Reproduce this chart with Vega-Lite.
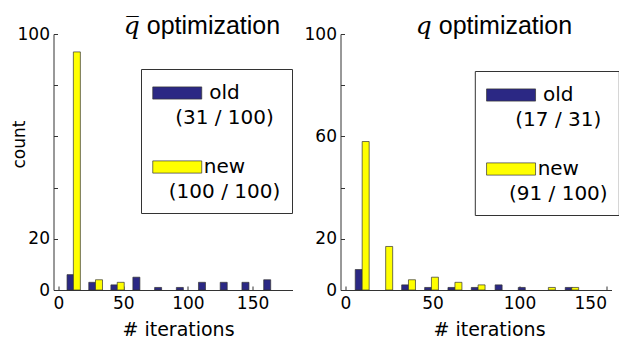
{
  "$schema": "https://vega.github.io/schema/vega-lite/v6.json",
  "background": "white",
  "padding": {"left": 9.5, "top": 14, "right": 2, "bottom": 5},
  "config": {
    "font": "DejaVu Sans",
    "view": {"stroke": null},
    "axis": {
      "domainColor": "#333", "tickColor": "#333", "labelColor": "#000", "titleColor": "#000",
      "labelFont": "DejaVu Sans", "titleFont": "DejaVu Sans",
      "labelFontSize": 17, "titleFontSize": 19, "titleFontWeight": "normal",
      "grid": false, "tickSize": -4, "domainWidth": 1, "tickWidth": 1
    },
    "axisX": {"labelPadding": 9, "labelFlush": false, "titlePadding": 9},
    "axisY": {"labelPadding": 8},
    "title": {"fontSize": 25, "fontWeight": "normal", "font": "Liberation Sans, DejaVu Serif", "color": "#000", "frame": "group", "offset": -14},
    "concat": {"spacing": 11},
    "legend": {
      "orient": "none", "title": null,
      "strokeColor": "#333", "fillColor": "white", "padding": 11,
      "symbolType": "M-1,-0.5H3V0.5H-1Z", "symbolSize": 600,
      "symbolStrokeColor": "#333", "symbolStrokeWidth": 0.7, "symbolOpacity": 1,
      "labelFontSize": 20, "labelFont": "DejaVu Sans", "labelColor": "#000",
      "labelAlign": "center", "labelBaseline": "middle", "labelOffset": 46.5, "rowPadding": 26, "labelLimit": 300
    }
  },
  "datasets": {
    "left": [
      {"iterations": 9.3, "series": "old", "count": 6},
      {"iterations": 26.1, "series": "old", "count": 3},
      {"iterations": 43.2, "series": "old", "count": 2},
      {"iterations": 60.2, "series": "old", "count": 5},
      {"iterations": 77.0, "series": "old", "count": 1},
      {"iterations": 93.8, "series": "old", "count": 1},
      {"iterations": 110.9, "series": "old", "count": 3},
      {"iterations": 127.7, "series": "old", "count": 3},
      {"iterations": 144.5, "series": "old", "count": 3},
      {"iterations": 161.3, "series": "old", "count": 4},
      {"iterations": 14.2, "series": "new", "count": 93},
      {"iterations": 31.3, "series": "new", "count": 4},
      {"iterations": 48.1, "series": "new", "count": 3}
    ],
    "right": [
      {"iterations": 7.6, "series": "old", "count": 8},
      {"iterations": 34.3, "series": "old", "count": 2},
      {"iterations": 47.5, "series": "old", "count": 1},
      {"iterations": 60.9, "series": "old", "count": 1},
      {"iterations": 74.3, "series": "old", "count": 1},
      {"iterations": 88.0, "series": "old", "count": 2},
      {"iterations": 101.3, "series": "old", "count": 1},
      {"iterations": 128.3, "series": "old", "count": 1},
      {"iterations": 11.6, "series": "new", "count": 58},
      {"iterations": 25.1, "series": "new", "count": 17},
      {"iterations": 38.2, "series": "new", "count": 4},
      {"iterations": 51.4, "series": "new", "count": 5},
      {"iterations": 64.9, "series": "new", "count": 3},
      {"iterations": 78.2, "series": "new", "count": 2},
      {"iterations": 118.6, "series": "new", "count": 1},
      {"iterations": 132.0, "series": "new", "count": 1}
    ]
  },
  "hconcat": [
    {
      "width": 239, "height": 256,
      "data": {"name": "left"},
      "title": {"text": "𝑞̅ optimization", "dx": 29},
      "mark": {"type": "bar", "size": 7, "stroke": "#333", "strokeWidth": 0.7},
      "encoding": {
        "x": {"field": "iterations", "type": "quantitative", "scale": {"domain": [0, 177], "nice": false},
              "axis": {"values": [0, 50, 100, 150], "title": "# iterations", "titleX": 124.5}},
        "y": {"field": "count", "type": "quantitative", "scale": {"domain": [0, 100], "nice": false},
              "axis": {"values": [0, 20, 40, 60, 80, 100],
                       "labelExpr": "datum.value == 0 || datum.value == 20 || datum.value == 100 ? datum.label : ''",
                       "title": "count", "titleFontSize": 17, "titleX": -25.5, "titleY": 110}},
        "color": {"field": "series", "type": "nominal",
                  "scale": {"domain": ["old", "new"], "range": ["#2b2884", "#ffff00"]},
                  "legend": {"legendX": 87.5, "legendY": 35,
                             "labelExpr": "datum.label == 'old' ? ['old', '(31 / 100)'] : ['new', '(100 / 100)']",
                             "encode": {"labels": {"update": {"lineHeight": {"value": 25}}}}}}
      }
    },
    {
      "width": 271, "height": 256,
      "data": {"name": "right"},
      "title": {"text": "𝑞  optimization", "dx": 18},
      "mark": {"type": "bar", "size": 7, "stroke": "#333", "strokeWidth": 0.7},
      "encoding": {
        "x": {"field": "iterations", "type": "quantitative", "scale": {"domain": [0, 150], "nice": false},
              "axis": {"values": [0, 50, 100, 150], "title": "# iterations", "titleX": 148.5,
                       "labelAlign": {"condition": {"test": "datum.value == 150", "value": "right"}, "value": "center"}}},
        "y": {"field": "count", "type": "quantitative", "scale": {"domain": [0, 100], "nice": false},
              "axis": {"values": [0, 20, 40, 60, 80, 100],
                       "labelExpr": "datum.value == 0 || datum.value == 20 || datum.value == 60 || datum.value == 100 ? datum.label : ''",
                       "title": null}},
        "color": {"field": "series", "type": "nominal",
                  "scale": {"domain": ["old", "new"], "range": ["#2b2884", "#ffff00"]},
                  "legend": {"legendX": 134.3, "legendY": 37,
                             "labelExpr": "datum.label == 'old' ? ['old', '(17 / 31)'] : ['new', '(91 / 100)']",
                             "encode": {"labels": {"update": {"lineHeight": {"value": 25}}}}}}
      }
    }
  ],
  "resolve": {"scale": {"color": "independent"}, "legend": {"color": "independent"}}
}
